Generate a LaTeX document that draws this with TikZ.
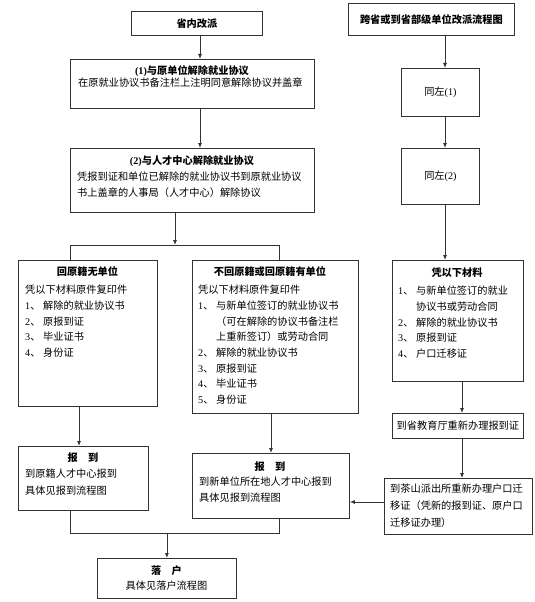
\documentclass[tikz,border=0pt]{standalone}
\usepackage{fontspec}
\setmainfont{Noto Sans CJK SC}
\newfontfamily\lat{Liberation Serif}
\usetikzlibrary{arrows.meta}
\newcommand{\fs}{\fontsize{10.2}{15.7}\selectfont}
\newcommand{\num}[1]{\makebox[18pt][l]{{\lat #1}、}}
\newcommand{\ind}{\hspace*{18pt}}
\begin{document}
\begin{tikzpicture}[x=1pt,y=-1pt,
  box/.style={draw=black!80, line width=0.8pt, inner sep=0pt, anchor=north west, font=\fs},
  txt/.style={inner sep=0pt, anchor=north west, align=left, font=\fs},
  ttl/.style={inner sep=0pt, anchor=center, font=\fs\bfseries},
  ln/.style={draw=black!80, line width=0.8pt},
  arr/.style={ln, -{Latex[length=5pt,width=4pt]}}]
\useasboundingbox (0,0) rectangle (535,602);
% boxes
\node[box, minimum width=131pt, minimum height=24pt] (A) at (131,11) {\bfseries 省内改派};
\node[box, minimum width=166pt, minimum height=32pt] (B) at (348,3) {\bfseries 跨省或到省部级单位改派流程图};
\node[box, minimum width=244pt, minimum height=49pt] (C1) at (70,59) {};
\node[box, minimum width=244pt, minimum height=64pt] (C2) at (70,148) {};
\node[box, minimum width=78pt, minimum height=48pt] (S1) at (401,68) {同左{\lat (1)}};
\node[box, minimum width=78pt, minimum height=56pt] (S2) at (401,148) {同左{\lat (2)}};
\node[box, minimum width=139pt, minimum height=146pt] (L) at (18,260) {};
\node[box, minimum width=166pt, minimum height=153pt] (M) at (192,260) {};
\node[box, minimum width=131pt, minimum height=121pt] (R) at (392,260) {};
\node[box, minimum width=131pt, minimum height=25pt] (E) at (392,413) {到省教育厅重新办理报到证};
\node[box, minimum width=148pt, minimum height=56pt] (P) at (384,478) {};
\node[box, minimum width=130pt, minimum height=64pt] (RL) at (18,446) {};
\node[box, minimum width=157pt, minimum height=65pt] (RM) at (192,453) {};
\node[box, minimum width=139pt, minimum height=40pt] (F) at (97,558) {};
% texts
\node[ttl] (C1a) at (192,71) {{\lat (1)}与原单位解除就业协议};
\node[txt] (C1b) at (78,78) {在原就业协议书备注栏上注明同意解除协议并盖章};
\node[ttl] (C2a) at (192,161) {{\lat (2)}与人才中心解除就业协议};
\node[txt] (C2b) at (77,172) {凭报到证和单位已解除的就业协议书到原就业协议\\书上盖章的人事局（人才中心）解除协议};
\node[ttl] (La) at (87.5,272) {回原籍无单位};
\node[txt] (Lb) at (25,285) {凭以下材料原件复印件\\\num{1}解除的就业协议书\\\num{2}原报到证\\\num{3}毕业证书\\\num{4}身份证};
\node[ttl] (Ma) at (270,272) {不回原籍或回原籍有单位};
\node[txt] (Mb) at (198,285) {凭以下材料原件复印件\\\num{1}与新单位签订的就业协议书\\\ind（可在解除的协议书备注栏\\\ind 上重新签订）或劳动合同\\\num{2}解除的就业协议书\\\num{3}原报到证\\\num{4}毕业证书\\\num{5}身份证};
\node[ttl] (Ra) at (457,273) {凭以下材料};
\node[txt] (Rb) at (398,286) {\num{1}与新单位签订的就业\\\ind 协议书或劳动合同\\\num{2}解除的就业协议书\\\num{3}原报到证\\\num{4}户口迁移证};
\node[txt, font=\fontsize{10.2}{17}\selectfont] (Pb) at (390,484) {到茶山派出所重新办理户口迁\\移证（凭新的报到证、原户口\\迁移证办理）};
\node[ttl] (RLa) at (83,458) {报\hspace{1em}到};
\node[txt, font=\fontsize{10.2}{16.5}\selectfont] (RLb) at (25,469) {到原籍人才中心报到\\具体见报到流程图};
\node[ttl] (RMa) at (270,467) {报\hspace{1em}到};
\node[txt, font=\fontsize{10.2}{16}\selectfont] (RMb) at (199,477) {到新单位所在地人才中心报到\\具体见报到流程图};
\node[ttl] (Fa) at (166.5,571) {落\hspace{1em}户};
\node[inner sep=0pt, font=\fs] (Fb) at (166.5,586) {具体见落户流程图};
% helper coordinates
\coordinate (x200) at (200,0);
\coordinate (br) at (175,245);
\coordinate (bl) at (70,245);
\coordinate (bm) at (279,245);
\coordinate (xl) at (79,0);
\coordinate (xm) at (271,0);
\coordinate (xr) at (462,0);
\coordinate (xs) at (445,0);
\coordinate (pm) at (0,502);
\coordinate (mg) at (0,533);
% connectors
\draw[arr] (A.south -| x200) -- (C1.north -| x200);
\draw[arr] (C1.south -| x200) -- (C2.north -| x200);
\draw[arr] (br |- C2.south) -- (br);
\draw[ln] (bl |- L.north) -- (bl) -- (bm) -- (bm |- M.north);
\draw[arr] (L.south -| xl) -- (RL.north -| xl);
\draw[arr] (M.south -| xm) -- (RM.north -| xm);
\draw[arr] (B.south -| xs) -- (S1.north -| xs);
\draw[arr] (S1.south -| xs) -- (S2.north -| xs);
\draw[arr] (S2.south -| xs) -- (R.north -| xs);
\draw[arr] (R.south -| xr) -- (E.north -| xr);
\draw[arr] (E.south -| xr) -- (P.north -| xr);
\draw[arr] (P.west |- pm) -- (RM.east |- pm);
\draw[ln] (RL.south -| bl) -- (bl |- mg) -- (bm |- mg) -- (RM.south -| bm);
\draw[arr] (F.north |- mg) -- (F.north);
\end{tikzpicture}
\end{document}
